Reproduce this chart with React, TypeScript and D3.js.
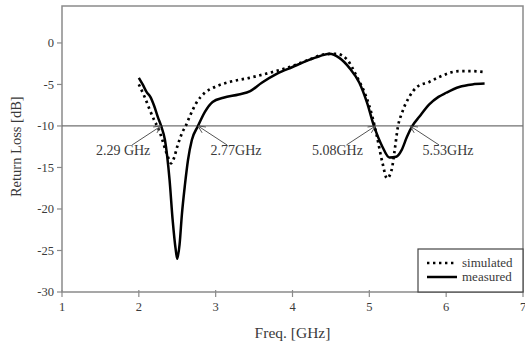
import * as d3 from "d3";

const W = 525;
const H = 343;

const xTicks = [1, 2, 3, 4, 5, 6, 7];
const yTicks = [0, -5, -10, -15, -20, -25, -30];

const measuredFreq = [2.0, 2.05, 2.1, 2.15, 2.2, 2.25, 2.29, 2.34, 2.4, 2.44, 2.48, 2.5, 2.53, 2.56, 2.6, 2.64, 2.69, 2.77, 2.86, 2.96, 3.1, 3.3, 3.45, 3.6, 3.8, 4.0, 4.2, 4.35, 4.48, 4.61, 4.74, 4.87, 4.97, 5.06, 5.17, 5.26, 5.35, 5.42, 5.49, 5.56, 5.65, 5.78, 5.9, 6.0, 6.17, 6.34, 6.5];
const measuredRL = [-4.2, -5.0, -5.9, -6.5, -7.6, -9.0, -10, -11.7, -16.5, -21.3, -24.9, -26.0, -24.3, -20.7, -17.1, -14.1, -11.7, -10, -8.3, -7.1, -6.6, -6.2, -5.8, -4.8, -3.7, -2.9, -2.1, -1.6, -1.3, -1.8, -3.0, -4.8, -7.2, -10, -12.5, -13.8, -13.7, -12.9, -11.3, -10, -8.9, -7.4, -6.5, -6.0, -5.3, -5.0, -4.9];

const simulatedFreq = [2.0, 2.08, 2.14, 2.21, 2.25, 2.3, 2.35, 2.39, 2.42, 2.46, 2.5, 2.57, 2.61, 2.66, 2.75, 2.86, 2.99, 3.18, 3.44, 3.7, 3.96, 4.22, 4.4, 4.57, 4.71, 4.84, 4.96, 5.04, 5.1, 5.17, 5.23, 5.29, 5.33, 5.37, 5.43, 5.52, 5.62, 5.78, 5.91, 6.17, 6.34, 6.49];
const simulatedRL = [-5.0, -6.6, -8.0, -9.5, -10.2, -11.5, -13.0, -14.0, -14.5, -13.8, -12.5, -10.7, -10, -8.9, -7.2, -6.0, -5.3, -4.7, -4.2, -3.6, -2.9, -2.0, -1.4, -1.3, -2.0, -4.1, -6.5, -8.9, -11.3, -14.4, -16.3, -15.3, -12.9, -10.2, -8.3, -6.5, -5.3, -4.7, -4.1, -3.4, -3.4, -3.5];

const markerFreqs = [2.29, 2.77, 5.08, 5.53];
const markerLabels = ["2.29 GHz", "2.77GHz", "5.08GHz", "5.53GHz"];
const markerSides = [-1, 1, -1, 1];

const threshold = -10;

export default function App() {
  const x = d3.scaleLinear().domain([1, 7]).range([62, 523]);
  const y = d3.scaleLinear().domain([-30, 4.45]).range([292, 6]);

  const line = d3
    .line<[number, number]>()
    .x((d) => x(d[0]))
    .y((d) => y(d[1]))
    .curve(d3.curveMonotoneX);

  const measured = measuredFreq.map((f, i) => [f, measuredRL[i]] as [number, number]);
  const simulated = simulatedFreq.map((f, i) => [f, simulatedRL[i]] as [number, number]);

  const font = "'Liberation Serif', 'Times New Roman', serif";
  const axisCol = "#8a8a8a";
  const textCol = "#3a3a3a";

  return (
    <svg
      width={W}
      height={H}
      style={{ position: "absolute", left: 0, top: 0, background: "#fff" }}
      fontFamily={font}
    >
      {/* frame */}
      <rect
        x={x(1)}
        y={y(4.45)}
        width={x(7) - x(1)}
        height={y(-30) - y(4.45)}
        fill="none"
        stroke={axisCol}
        strokeWidth={1.5}
      />

      {/* y ticks */}
      {yTicks.map((t) => (
        <g key={"y" + t}>
          <line x1={x(1) - 5} x2={x(1)} y1={y(t)} y2={y(t)} stroke={axisCol} strokeWidth={1.2} />
          <text x={x(1) - 8} y={y(t)} dy="0.35em" textAnchor="end" fontSize={12.5} fill={textCol}>
            {t}
          </text>
        </g>
      ))}

      {/* x ticks */}
      {xTicks.map((t) => (
        <g key={"x" + t}>
          <line x1={x(t)} x2={x(t)} y1={y(-30) - 2} y2={y(-30) + 5} stroke={axisCol} strokeWidth={1.2} />
          <text x={x(t)} y={y(-30) + 19} textAnchor="middle" fontSize={12.5} fill={textCol}>
            {t}
          </text>
        </g>
      ))}

      {/* -10 dB reference */}
      <line x1={x(1)} x2={x(7)} y1={y(threshold)} y2={y(threshold)} stroke="#707070" strokeWidth={1.3} />

      {/* curves */}
      <path
        d={line(simulated) ?? ""}
        fill="none"
        stroke="#000"
        strokeWidth={2.7}
        strokeDasharray="2.4 3.6"
      />
      <path d={line(measured) ?? ""} fill="none" stroke="#000" strokeWidth={2.5} />

      {/* annotations */}
      {markerFreqs.map((f, i) => {
        const tx = x(f);
        const ty = y(threshold);
        const s = markerSides[i];
        const lx = tx + s * 29;
        const ly = ty + 19;
        const ang = Math.atan2(ly - ty, lx - tx);
        const a1 = ang + 0.45;
        const a2 = ang - 0.45;
        const hl = 8;
        return (
          <g key={"m" + i}>
            <line x1={tx} y1={ty} x2={lx} y2={ly} stroke="#555" strokeWidth={1} />
            <path
              d={`M${tx + hl * Math.cos(a1)},${ty + hl * Math.sin(a1)} L${tx},${ty} L${tx + hl * Math.cos(a2)},${ty + hl * Math.sin(a2)}`}
              fill="none"
              stroke="#555"
              strokeWidth={1}
            />
            <text x={tx + s * 38} y={ty + 29} textAnchor="middle" fontSize={14} fill={textCol}>
              {markerLabels[i]}
            </text>
          </g>
        );
      })}

      {/* legend */}
      <rect x={418} y={249} width={x(7) - 418} height={y(-30) - 249} fill="#fff" stroke="#444" strokeWidth={1.2} />
      <line x1={427} x2={457} y1={263} y2={263} stroke="#000" strokeWidth={2.7} strokeDasharray="2.4 3.6" />
      <text x={462} y={263} dy="0.32em" fontSize={13} fill={textCol}>
        simulated
      </text>
      <line x1={427} x2={457} y1={277} y2={277} stroke="#000" strokeWidth={2.5} />
      <text x={462} y={277} dy="0.32em" fontSize={13} fill={textCol}>
        measured
      </text>

      {/* axis titles */}
      <text x={x(4)} y={338} textAnchor="middle" fontSize={15.5} fill={textCol}>
        Freq. [GHz]
      </text>
      <text
        transform={`translate(21,${y(-12.5)}) rotate(-90)`}
        textAnchor="middle"
        fontSize={14.5}
        fill={textCol}
      >
        Return Loss [dB]
      </text>
    </svg>
  );
}
